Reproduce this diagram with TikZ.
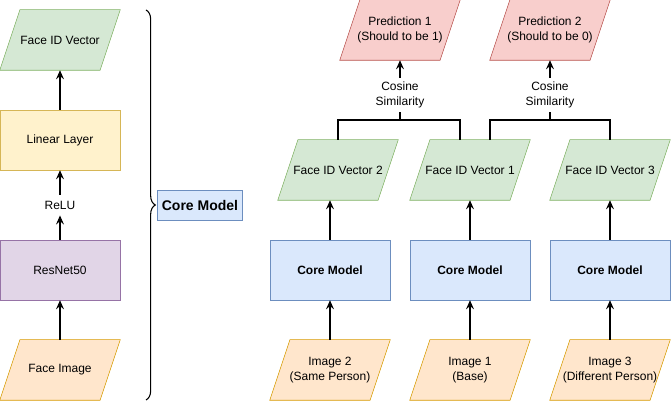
\documentclass[tikz,border=0pt]{standalone}
\usepackage{fontspec}
\setmainfont{Liberation Sans}
\usetikzlibrary{arrows.meta,positioning,decorations.pathreplacing,calc}
\definecolor{vecline}{HTML}{82B366}
\definecolor{vecfill}{HTML}{D5E8D4}
\definecolor{linline}{HTML}{D6B656}
\definecolor{linfill}{HTML}{FFF2CC}
\definecolor{resline}{HTML}{9673A6}
\definecolor{resfill}{HTML}{E1D5E7}
\definecolor{imgline}{HTML}{D79B00}
\definecolor{imgfill}{HTML}{FFE6CC}
\definecolor{predline}{HTML}{B85450}
\definecolor{predfill}{HTML}{F8CECC}
\definecolor{coreline}{HTML}{6C8EBF}
\definecolor{corefill}{HTML}{DAE8FC}

\newdimen\slantxa \newdimen\slantya \newdimen\slantxb \newdimen\slantyb \newdimen\slantext
\makeatletter
\pgfdeclareshape{slantbox}{
  \inheritsavedanchors[from=rectangle]
  \inheritanchorborder[from=rectangle]
  \inheritanchor[from=rectangle]{center}
  \inheritanchor[from=rectangle]{mid}
  \inheritanchor[from=rectangle]{base}
  \inheritanchor[from=rectangle]{north}
  \inheritanchor[from=rectangle]{south}
  \inheritanchor[from=rectangle]{east}
  \inheritanchor[from=rectangle]{west}
  \backgroundpath{
    \southwest \slantxa=\pgf@x \slantya=\pgf@y
    \northeast \slantxb=\pgf@x \slantyb=\pgf@y
    \slantext=\slantyb \advance\slantext by -\slantya \divide\slantext by 3
    \pgfpathmoveto{\pgfqpoint{\slantxa}{\slantya}}
    \advance\slantxb by -\slantext
    \pgfpathlineto{\pgfqpoint{\slantxb}{\slantya}}
    \advance\slantxb by \slantext
    \pgfpathlineto{\pgfqpoint{\slantxb}{\slantyb}}
    \advance\slantxa by \slantext
    \pgfpathlineto{\pgfqpoint{\slantxa}{\slantyb}}
    \pgfpathclose
  }
}
\makeatother

\begin{document}
\begin{tikzpicture}[
    x=0.75pt, y=-0.75pt,
    font=\fontsize{9}{11}\selectfont,
    block/.style={rectangle, minimum width=90pt, minimum height=45pt, inner sep=1pt, align=center},
    para/.style={block, shape=slantbox},
    vector/.style={para, draw=vecline, fill=vecfill},
    image/.style={para, draw=imgline, fill=imgfill},
    pred/.style={para, draw=predline, fill=predfill},
    linear/.style={block, draw=linline, fill=linfill},
    resnet/.style={block, draw=resline, fill=resfill},
    core/.style={block, draw=coreline, fill=corefill, font=\fontsize{9}{11}\selectfont\bfseries},
    label/.style={align=center, inner sep=3pt},
    arrow/.style={-{Stealth[length=2.4mm, width=2.1mm, inset=0.9mm]}, line width=0.8pt}
  ]
    \useasboundingbox (0,0) rectangle (672,402);

    \node[vector] (vecL) at (60,40) {Face ID Vector};
    \node[linear] (linL) at (60,140) {Linear Layer};
    \node[label, inner sep=4.5pt] (relu) at (60,205) {ReLU};
    \node[resnet] (resL) at (60,270) {ResNet50};
    \node[image] (imgL) at (60,370) {Face Image};

    \draw[arrow] (imgL) -- (resL);
    \draw[arrow] (resL) -- (relu);
    \draw[arrow] (relu) -- (linL);
    \draw[arrow] (linL) -- (vecL);

    \draw[decorate, decoration={brace, amplitude=7pt}, line width=0.8pt] (146,10) -- (146,400);
    \node[rectangle, draw=coreline, fill=corefill, minimum width=60pt, minimum height=22.5pt, font=\fontsize{10.5}{12}\selectfont\bfseries] (coreLbl) at (200,205) {Core Model};

    \node[pred] (pred1) at (400,30) {Prediction 1\\(Should to be 1)};
    \node[pred] (pred2) at (550,30) {Prediction 2\\(Should to be 0)};
    \node[label] (cos1) at (400,95) {Cosine\\Similarity};
    \node[label] (cos2) at (550,95) {Cosine\\Similarity};

    \node[vector] (fv2) at (338,170) {Face ID Vector 2};
    \node[vector] (fv1) at (470,170) {Face ID Vector 1};
    \node[vector] (fv3) at (610,170) {Face ID Vector 3};

    \node[core] (core2) at (330,270) {Core Model};
    \node[core] (core1) at (470,270) {Core Model};
    \node[core] (core3) at (610,270) {Core Model};

    \node[image] (img2) at (330,370) {Image 2\\(Same Person)};
    \node[image] (img1) at (470,370) {Image 1\\(Base)};
    \node[image] (img3) at (610,370) {Image 3\\(Different Person)};

    \foreach \n in {1,2,3} {
      \draw[arrow] (img\n) -- (core\n);
      \draw[arrow] (core\n.north) -- (core\n.north |- fv\n.south);
    }

    \coordinate (join1) at (400,120);
    \coordinate (join2) at (550,120);
    \draw[line width=0.8pt] (fv2.north) |- (join1) -| ([xshift=-7.5pt]fv1.north);
    \draw[line width=0.8pt] (join1) -- (cos1.south);
    \draw[line width=0.8pt] ([xshift=15pt]fv1.north) |- (join2) -| (fv3.north);
    \draw[line width=0.8pt] (join2) -- (cos2.south);
    \draw[arrow] (cos1) -- (pred1);
    \draw[arrow] (cos2) -- (pred2);
  \end{tikzpicture}
\end{document}
